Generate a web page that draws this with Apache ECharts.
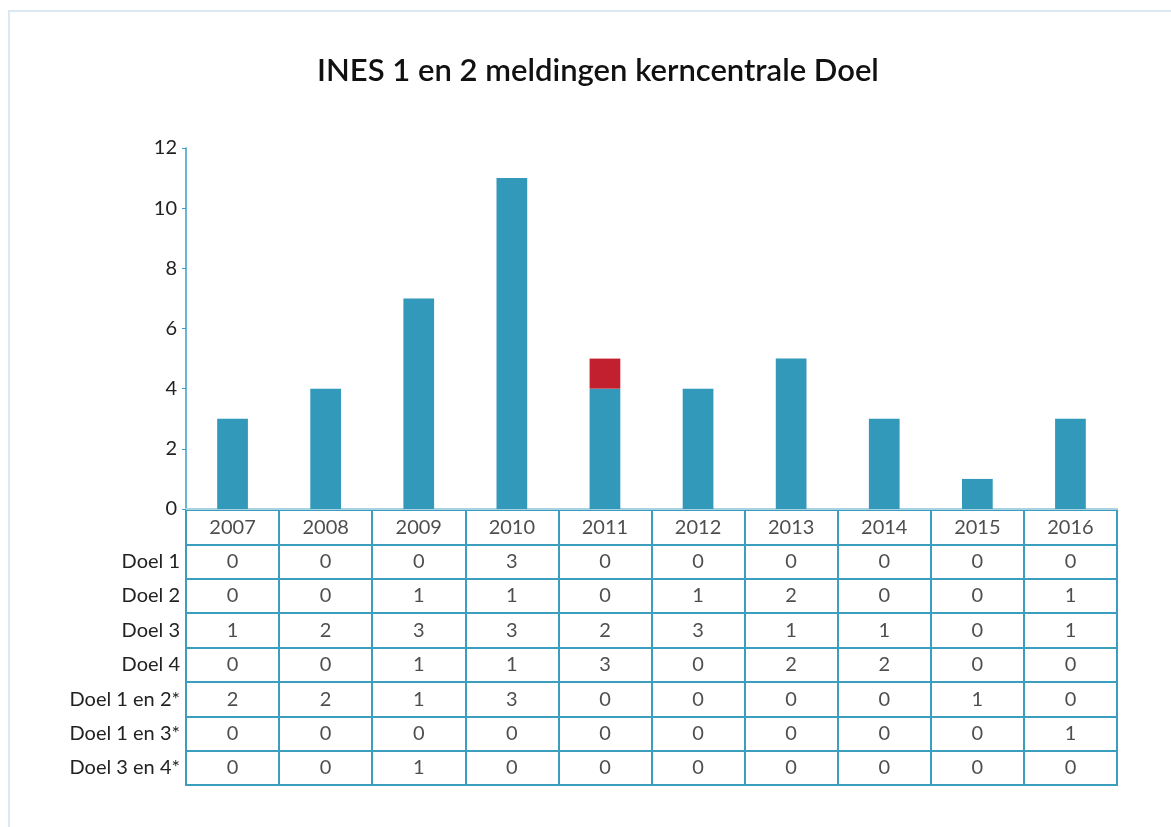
<!DOCTYPE html>
<html>
<head>
<meta charset="utf-8">
<script src="https://cdn.jsdelivr.net/npm/echarts@6/dist/echarts.min.js"></script>
<style>
  body { margin: 0; background: #fff; }
  #frame { position: absolute; left: 8px; top: 10px; width: 1200px; height: 900px;
           border-top: 2px solid #dce9f2; border-left: 2px solid #dce9f2; }
  #main { position: absolute; left: 0; top: 0; width: 1171px; height: 827px; }
</style>
</head>
<body>
<div id="frame"></div>
<div id="main"></div>
<script>
// jaren en meldingen
var years = ['2007', '2008', '2009', '2010', '2011', '2012', '2013', '2014', '2015', '2016'];
var blueBars = [3, 4, 7, 11, 4, 4, 5, 3, 1, 3];
var redBars  = [0, 0, 0, 0, 1, 0, 0, 0, 0, 0];
var yTicks = [0, 2, 4, 6, 8, 10, 12];

// tabel onder de grafiek
var tableRows = ['Doel 1', 'Doel 2', 'Doel 3', 'Doel 4', 'Doel 1 en 2*', 'Doel 1 en 3*', 'Doel 3 en 4*'];
var doel1   = [0, 0, 0, 3, 0, 0, 0, 0, 0, 0];
var doel2   = [0, 0, 1, 1, 0, 1, 2, 0, 0, 1];
var doel3   = [1, 2, 3, 3, 2, 3, 1, 1, 0, 1];
var doel4   = [0, 0, 1, 1, 3, 0, 2, 2, 0, 0];
var doel12  = [2, 2, 1, 3, 0, 0, 0, 0, 1, 0];
var doel13  = [0, 0, 0, 0, 0, 0, 0, 0, 0, 1];
var doel34  = [0, 0, 1, 0, 0, 0, 0, 0, 0, 0];
var tableValues = [doel1, doel2, doel3, doel4, doel12, doel13, doel34];

var HDR = '__jaar__';
var lineColor = '#3c9ebf';
var textColor = '#222';
var font = 'Lato';

// cellen opbouwen
var cells = [];
years.forEach(function (y) { cells.push([y, HDR, y]); });
tableRows.forEach(function (r, i) {
  years.forEach(function (y, j) { cells.push([y, r, tableValues[i][j]]); });
});

var myChart = echarts.init(document.getElementById('main'));
myChart.setOption({
  animation: false,
  textStyle: { fontFamily: font },
  title: {
    text: 'INES 1 en 2 meldingen kerncentrale Doel',
    left: 593,
    textAlign: 'center',
    top: 50,
    textStyle: { fontSize: 31, fontWeight: 600, color: '#111', fontFamily: font }
  },
  grid: [
    { left: 186, width: 931, top: 148, height: 361, containLabel: false },
    { left: 186, width: 931, top: 510, height: 275, show: true,
      borderColor: lineColor, borderWidth: 2, backgroundColor: 'transparent' }
  ],
  xAxis: [
    {
      gridIndex: 0, type: 'category', data: years,
      axisLine: { show: true, lineStyle: { color: '#a9d3e3', width: 2 } },
      axisTick: { show: false }, axisLabel: { show: false }
    },
    {
      gridIndex: 1, type: 'category', data: years,
      axisLine: { show: false }, axisTick: { show: false }, axisLabel: { show: false },
      splitLine: { show: true, lineStyle: { color: lineColor, width: 2 } }
    }
  ],
  yAxis: [
    {
      gridIndex: 0, type: 'value', min: 0, max: 12, interval: 2,
      axisLine: { show: true, lineStyle: { color: '#3a9cc0', width: 1.5 } },
      axisTick: { show: true, length: 4, lineStyle: { color: '#3a9cc0' } },
      axisLabel: { color: textColor, fontSize: 20, margin: 9,
                   formatter: function (v) { return yTicks.indexOf(v) >= 0 ? v : ''; } },
      splitLine: { show: false }
    },
    {
      gridIndex: 1, type: 'category', inverse: true, data: [HDR].concat(tableRows),
      axisLine: { show: false }, axisTick: { show: false },
      axisLabel: { color: textColor, fontSize: 20, margin: 6,
                   formatter: function (v) { return v === HDR ? '' : v; } },
      splitLine: { show: true, lineStyle: { color: lineColor, width: 2 } }
    }
  ],
  series: [
    {
      type: 'bar', stack: 'doel', data: blueBars, barWidth: '33%',
      xAxisIndex: 0, yAxisIndex: 0, itemStyle: { color: '#3399bb' }
    },
    {
      type: 'bar', stack: 'doel', data: redBars, barWidth: '33%',
      xAxisIndex: 0, yAxisIndex: 0, itemStyle: { color: '#c2202f' }
    },
    {
      type: 'scatter', xAxisIndex: 1, yAxisIndex: 1, data: cells,
      symbolSize: 1, itemStyle: { color: 'rgba(0,0,0,0)' },
      label: {
        show: true, position: 'inside', color: textColor, fontSize: 20,
        formatter: function (p) { return String(p.value[2]); }
      }
    }
  ]
});
</script>
</body>
</html>
